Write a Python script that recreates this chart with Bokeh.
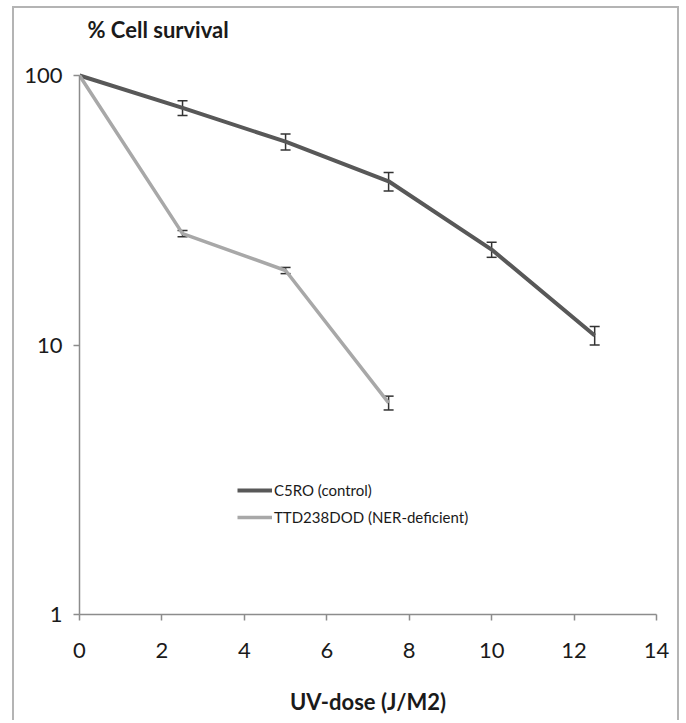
from bokeh.plotting import figure
from bokeh.models import (Range1d, FixedTicker, Whisker, ColumnDataSource, Legend,
                          LegendItem, TeeHead, Label)
from bokeh.embed import file_html
from bokeh.resources import INLINE

# ---- data ----
dose_c5ro = [0, 2.5, 5, 7.5, 10, 12.5]
surv_c5ro = [100, 75.8, 56.8, 40.5, 22.6, 10.85]
err_c5ro = [0, 4.8, 3.9, 3.2, 1.45, 0.85]

dose_ttd = [0, 2.5, 5, 7.5]
surv_ttd = [100, 25.9, 18.9, 6.1]
err_ttd = [0, 0.7, 0.5, 0.36]

x_ticks = [0, 2, 4, 6, 8, 10, 12, 14]
y_ticks = [1, 10, 100]
y_tick_labels = {1: "1", 10: "10", 100: "100"}

label_c5ro = "C5RO (control)"
label_ttd = "TTD238DOD (NER-deficient)"
title_text = "% Cell survival"
x_label = "UV-dose (J/M2)"

FONT = "Lato"

# frame extends above the 100 line to hold the title; axis line stops at 100
DECADE_PX = 269.5
y_top = 100 * 10 ** (60 / DECADE_PX)
title_y = 100 * 10 ** (46 / DECADE_PX)

p = figure(width=667, height=714, output_backend="svg", toolbar_location=None,
           y_axis_type="log", x_range=Range1d(0, 14), y_range=Range1d(1, y_top),
           min_border_left=65, min_border_right=25, min_border_top=7,
           min_border_bottom=108)
p.styles = {"border": "2px solid #b4b4b4", "border-bottom": "none",
            "margin-left": "12px", "margin-top": "6px"}
p.outline_line_color = None
p.xgrid.grid_line_color = None
p.ygrid.grid_line_color = None

for ax in (p.xaxis, p.yaxis):
    ax.axis_line_color = "#8c8c8c"
    ax.axis_line_width = 1.5
    ax.major_tick_line_color = "#8c8c8c"
    ax.major_tick_line_width = 1.5
    ax.major_tick_in = 0
    ax.major_tick_out = 6
    ax.minor_tick_line_color = None
    ax.major_label_text_font = FONT
    ax.major_label_text_font_size = "22px"
    ax.major_label_text_color = "#1a1a1a"

p.yaxis.bounds = (1, 100)
p.xaxis.ticker = FixedTicker(ticks=x_ticks)
p.yaxis.ticker = FixedTicker(ticks=y_ticks, minor_ticks=[])
p.yaxis.major_label_overrides = y_tick_labels
p.xaxis.major_label_standoff = 22
p.yaxis.major_label_standoff = 11

p.xaxis.axis_label = x_label
p.xaxis.axis_label_text_font = FONT
p.xaxis.axis_label_text_font_size = "22px"
p.xaxis.axis_label_text_font_style = "bold"
p.xaxis.axis_label_text_color = "#1a1a1a"
p.xaxis.axis_label_standoff = 27

l1 = p.line(dose_c5ro, surv_c5ro, line_color="#585858", line_width=4)
l2 = p.line(dose_ttd, surv_ttd, line_color="#a8a8a8", line_width=3.5)


def whisk(xs, ys, es):
    idx = [i for i, e in enumerate(es) if e > 0]
    src = ColumnDataSource(dict(
        x=[xs[i] for i in idx],
        lo=[ys[i] - es[i] for i in idx],
        hi=[ys[i] + es[i] for i in idx]))
    w = Whisker(source=src, base="x", lower="lo", upper="hi", dimension="height",
                line_color="#333333", line_width=1.5,
                upper_head=TeeHead(size=10, line_color="#333333", line_width=1.5),
                lower_head=TeeHead(size=10, line_color="#333333", line_width=1.5))
    p.add_layout(w)


whisk(dose_c5ro, surv_c5ro, err_c5ro)
whisk(dose_ttd, surv_ttd, err_ttd)

legend = Legend(items=[LegendItem(label=label_c5ro, renderers=[l1]),
                       LegendItem(label=label_ttd, renderers=[l2])],
                location=(158, 87), orientation="vertical")
legend.border_line_color = None
legend.background_fill_alpha = 0
legend.label_text_font = FONT
legend.label_text_font_size = "15px"
legend.label_text_color = "#1a1a1a"
legend.glyph_width = 35
legend.glyph_height = 20
legend.label_height = 20
legend.spacing = 7
legend.padding = 0
legend.margin = 0
legend.label_standoff = 2
p.add_layout(legend)

title = Label(x=0.194, y=title_y, text=title_text, text_font=FONT,
              text_font_size="22px", text_font_style="bold",
              text_color="#1a1a1a", text_baseline="middle", text_align="left")
p.add_layout(title)

open("out.html", "w").write(file_html(p, INLINE))
